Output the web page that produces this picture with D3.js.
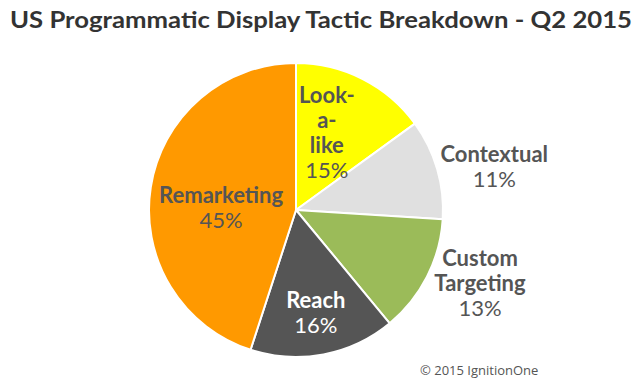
<!DOCTYPE html>
<html>
<head>
<meta charset="utf-8">
<script src="https://cdn.jsdelivr.net/npm/d3@7"></script>
<style>
  body { margin: 0; background: #fff; }
  svg { display: block; }
</style>
</head>
<body>
<div id="chart"></div>
<script>
// slices, clockwise from 12 o'clock
const tactics = ["Look-a-like", "Contextual", "Custom Targeting", "Reach", "Remarketing"];
const shares = [15, 11, 13, 16, 45];
// how each label is broken into lines
const labelLines = [["Look-", "a-", "like"], ["Contextual"], ["Custom", "Targeting"], ["Reach"], ["Remarketing"]];

const width = 644, height = 391;
const cx = 296, cy = 210, radius = 147;

const colors = ["#FFFF00", "#E0E0E0", "#9BBB59", "#555555", "#FF9900"];
const textColors = ["#555", "#555", "#555", "#fff", "#555"];
// label distance from the centre (as share of radius) and angle nudge in degrees
const labelRadius = [0.56, 1.38, 1.35, 0.72, 0.51];
const labelNudge = [-5, 4, -5, 0, -8];

const svg = d3.select("#chart").append("svg")
    .attr("width", width)
    .attr("height", height);

svg.append("text")
    .attr("x", width / 2 - 1)
    .attr("y", 28)
    .attr("text-anchor", "middle")
    .attr("font-family", "Lato, sans-serif")
    .attr("font-weight", "bold")
    .attr("font-size", 23)
    .attr("fill", "#333")
    .attr("textLength", 622)
    .attr("lengthAdjust", "spacingAndGlyphs")
    .text("US Programmatic Display Tactic Breakdown - Q2 2015");

const pie = d3.pie().sort(null).value(d => d);
const arcs = pie(shares);

const arc = d3.arc().innerRadius(0).outerRadius(radius);

const g = svg.append("g").attr("transform", `translate(${cx},${cy})`);

g.selectAll("path")
    .data(arcs)
    .enter()
    .append("path")
    .attr("d", arc)
    .attr("fill", (d, i) => colors[i])
    .attr("stroke", "#fff")
    .attr("stroke-width", 2)
    .attr("stroke-linejoin", "round");

const lineH = 25;
g.selectAll("text.lbl")
    .data(arcs)
    .enter()
    .append("text")
    .attr("class", "lbl")
    .attr("text-anchor", "middle")
    .attr("font-family", "Lato, sans-serif")
    .attr("font-size", 22)
    .attr("fill", (d, i) => textColors[i])
    .each(function(d, i) {
        const a = (d.startAngle + d.endAngle) / 2 + labelNudge[i] * Math.PI / 180;
        const r = radius * labelRadius[i];
        const x = Math.sin(a) * r;
        const y = -Math.cos(a) * r;
        const lines = labelLines[i].concat([shares[i] + "%"]);
        const top = y - (lines.length - 1) * lineH / 2 + 7;
        const t = d3.select(this);
        lines.forEach((s, k) => {
            t.append("tspan")
                .attr("x", x)
                .attr("y", top + k * lineH)
                .attr("font-weight", k === lines.length - 1 ? "normal" : "bold")
                .text(s);
        });
    });

svg.append("text")
    .attr("x", 420)
    .attr("y", 375)
    .attr("font-family", "'Open Sans', sans-serif")
    .attr("font-size", 13)
    .attr("fill", "#555")
    .text("\u00A9 2015 IgnitionOne");
</script>
</body>
</html>
